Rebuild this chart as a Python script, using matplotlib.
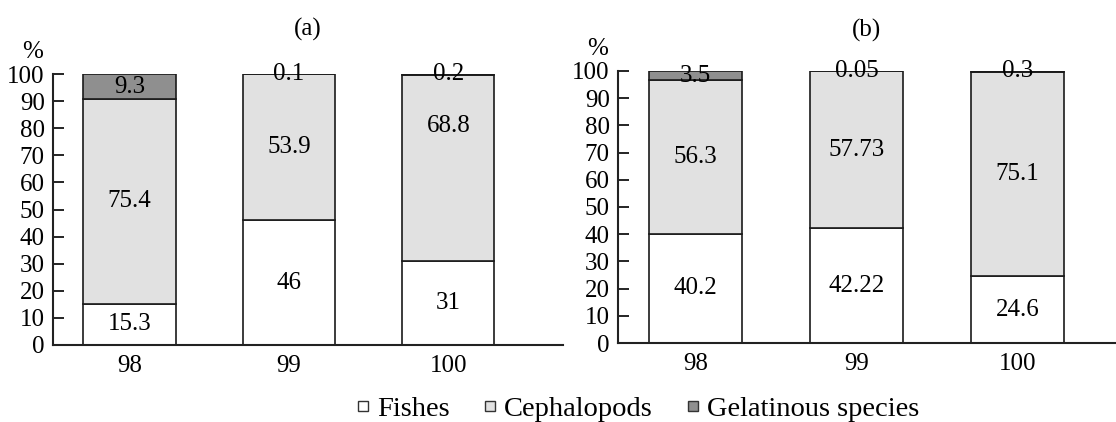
import numpy as np
import matplotlib
matplotlib.use("Agg")
import matplotlib.pyplot as plt
from matplotlib.lines import Line2D

plt.rcParams['font.family'] = ['Liberation Serif', 'DejaVu Serif']

# Datos
stations = ["98", "99", "100"]
fishes_a = [15.3, 46, 31]
cephal_a = [75.4, 53.9, 68.8]
gelat_a = [9.3, 0.1, 0.2]
fishes_b = [40.2, 42.22, 24.6]
cephal_b = [56.3, 57.73, 75.1]
gelat_b = [3.5, 0.05, 0.3]
lab_a = [["15.3", "46", "31"], ["75.4", "53.9", "68.8"], ["9.3", "0.1", "0.2"]]
lab_b = [["40.2", "42.22", "24.6"], ["56.3", "57.73", "75.1"], ["3.5", "0.05", "0.3"]]

colors = ["white", "#e1e1e1", "#8f8f8f"]
names = ["Fishes", "Cephalopods", "Gelatinous species"]
fs = 18
fs_tick = 18

fig = plt.figure(figsize=(11.16, 4.22), dpi=100)
ax1 = fig.add_axes([0.0475, 0.1825, 0.457, 0.642])
ax2 = fig.add_axes([0.5538, 0.187, 0.446, 0.645])


def draw(ax, series, labels, title, xmax, pct_x, tpad, shift=None):
    x = np.arange(len(stations))
    bottom = np.zeros(len(stations))
    for k, vals in enumerate(series):
        vals = np.array(vals, dtype=float)
        ax.bar(x, vals, bottom=bottom, width=0.58, color=colors[k],
               edgecolor="#1a1a1a", linewidth=1.2)
        for i in range(len(x)):
            yc = bottom[i] + vals[i] / 2
            if shift is not None and (k, i) in shift:
                yc += shift[(k, i)]
            ax.text(x[i], yc, labels[k][i], ha="center", va="center", fontsize=fs)
        bottom += vals
    ax.set_xlim(-0.48, xmax)
    ax.set_ylim(0, 100)
    ax.set_yticks(np.arange(0, 101, 10))
    ax.set_xticks(x)
    ax.set_xticklabels(stations)
    ax.tick_params(axis="y", direction="in", length=8, width=1.2, labelsize=fs_tick, pad=6)
    ax.tick_params(axis="x", length=0, labelsize=fs_tick, pad=7)
    for s in ["top", "right"]:
        ax.spines[s].set_visible(False)
    for s in ["left", "bottom"]:
        ax.spines[s].set_linewidth(1.5)
        ax.spines[s].set_color("#222222")
    ax.set_title(title, fontsize=fs, pad=tpad)
    ax.text(pct_x, 1.04, "%", transform=ax.transAxes, fontsize=fs, ha="center", va="bottom")


draw(ax1, [fishes_a, cephal_a, gelat_a], lab_a, "(a)", 2.72, -0.04, 28, shift={(1, 2): 15.5})
draw(ax2, [fishes_b, cephal_b, gelat_b], lab_b, "(b)", 2.61, -0.042, 25)

handles = [Line2D([], [], marker="s", linestyle="none", markersize=6.5,
                  markerfacecolor=c, markeredgecolor="#333333", markeredgewidth=1.0)
           for c in colors]
fig.legend(handles, names, loc="center left", bbox_to_anchor=(0.305, 0.03), ncol=3,
           frameon=False, fontsize=20.5, handlelength=0.6, handletextpad=0.2,
           columnspacing=1.1, borderpad=0)

fig.savefig("out.png", dpi=100)
